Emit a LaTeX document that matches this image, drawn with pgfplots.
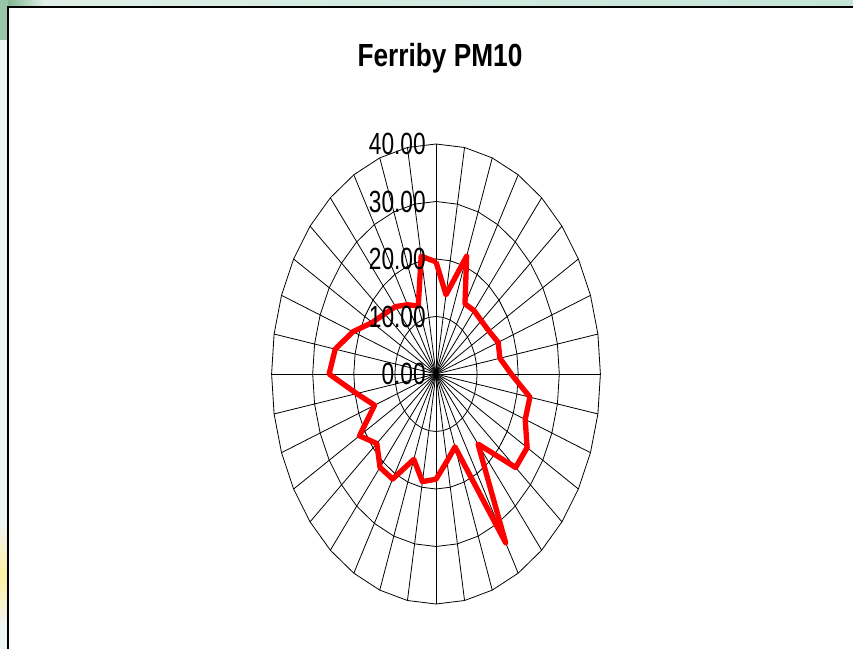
\documentclass[border=0pt]{standalone}
\usepackage{pgfplots}
\pgfplotsset{compat=1.18}
\usepackage{pgfplotstable}
\usepackage{fontspec}
\setmainfont{Liberation Sans}
\definecolor{corner}{RGB}{110,170,130}
\definecolor{stripL}{RGB}{225,240,232}
\definecolor{stripR}{RGB}{195,228,214}
\definecolor{sidebg}{RGB}{240,246,243}
\definecolor{yel}{RGB}{255,240,160}

\pgfplotstableread{
a r
0 19.5
10 14.0
20 21.8
30 14.1
40 14.4
50 14.4
60 14.9
70 16.1
80 15.8
90 18.3
100 23.2
110 23.1
120 25.6
130 25.3
140 15.9
150 33.9
160 13.5
170 15.4
180 18.3
190 19.0
200 15.8
210 21.1
220 21.2
230 18.8
240 21.5
250 15.9
260 19.6
270 26.0
280 24.9
290 21.5
300 17.9
310 16.3
320 15.3
330 13.9
340 12.6
350 20.8
360 19.5
}\ferriby

\begin{document}
\begin{tikzpicture}
\begin{scope}[x=0.75pt,y=-0.75pt,shift={(-327pt,280.5pt)}]
\path[use as bounding box] (0,0) rectangle (853,649);
\fill[sidebg] (0,0) rectangle (853,649);
\shade[left color=stripL, right color=stripR] (0,0) rectangle (853,7);
\shade[left color=corner, right color=stripL] (0,0) rectangle (45,7);
\fill[corner!70!white] (0,0) rectangle (8,40);
\shade[top color=sidebg, bottom color=sidebg, middle color=yel] (0,525) rectangle (8,625);
\fill[white] (8,7) rectangle (853,649);
\draw[line width=1.5pt, black] (8,649) -- (8,7) -- (853,7);
\node[anchor=base, inner sep=0pt] at (440,67) {\scalebox{0.82}[1]{\fontsize{24}{24}\selectfont\bfseries Ferriby PM10}};
\end{scope}
\begin{axis}[at={(0,0)}, anchor=origin, x=3.0825pt, y=4.3125pt,
  xmin=-40, xmax=40, ymin=-40, ymax=40, hide axis, clip=false]
\pgfplotsinvokeforeach{10,20,30,40}{
  \addplot[black, line width=0.6pt, no marks] table[x expr={#1*sin(\thisrow{a})}, y expr={#1*cos(\thisrow{a})}] {\ferriby};
}
\pgfplotsinvokeforeach{0,...,35}{
  \draw[black, line width=0.6pt] (axis cs:0,0) -- (axis cs:{40*sin(#1*10)},{40*cos(#1*10)});
}
\addplot[red, line width=4pt, line join=round, no marks] table[x expr={\thisrow{r}*sin(\thisrow{a})}, y expr={\thisrow{r}*cos(\thisrow{a})}] {\ferriby};
\pgfplotsinvokeforeach{0,10,20,30,40}{
  \node[anchor=east, inner sep=0pt, xshift=-7.5pt] at (axis cs:0,#1) {\scalebox{0.74}[1]{\fontsize{23}{23}\selectfont #1.00}};
}
\end{axis}
\end{tikzpicture}
\end{document}
